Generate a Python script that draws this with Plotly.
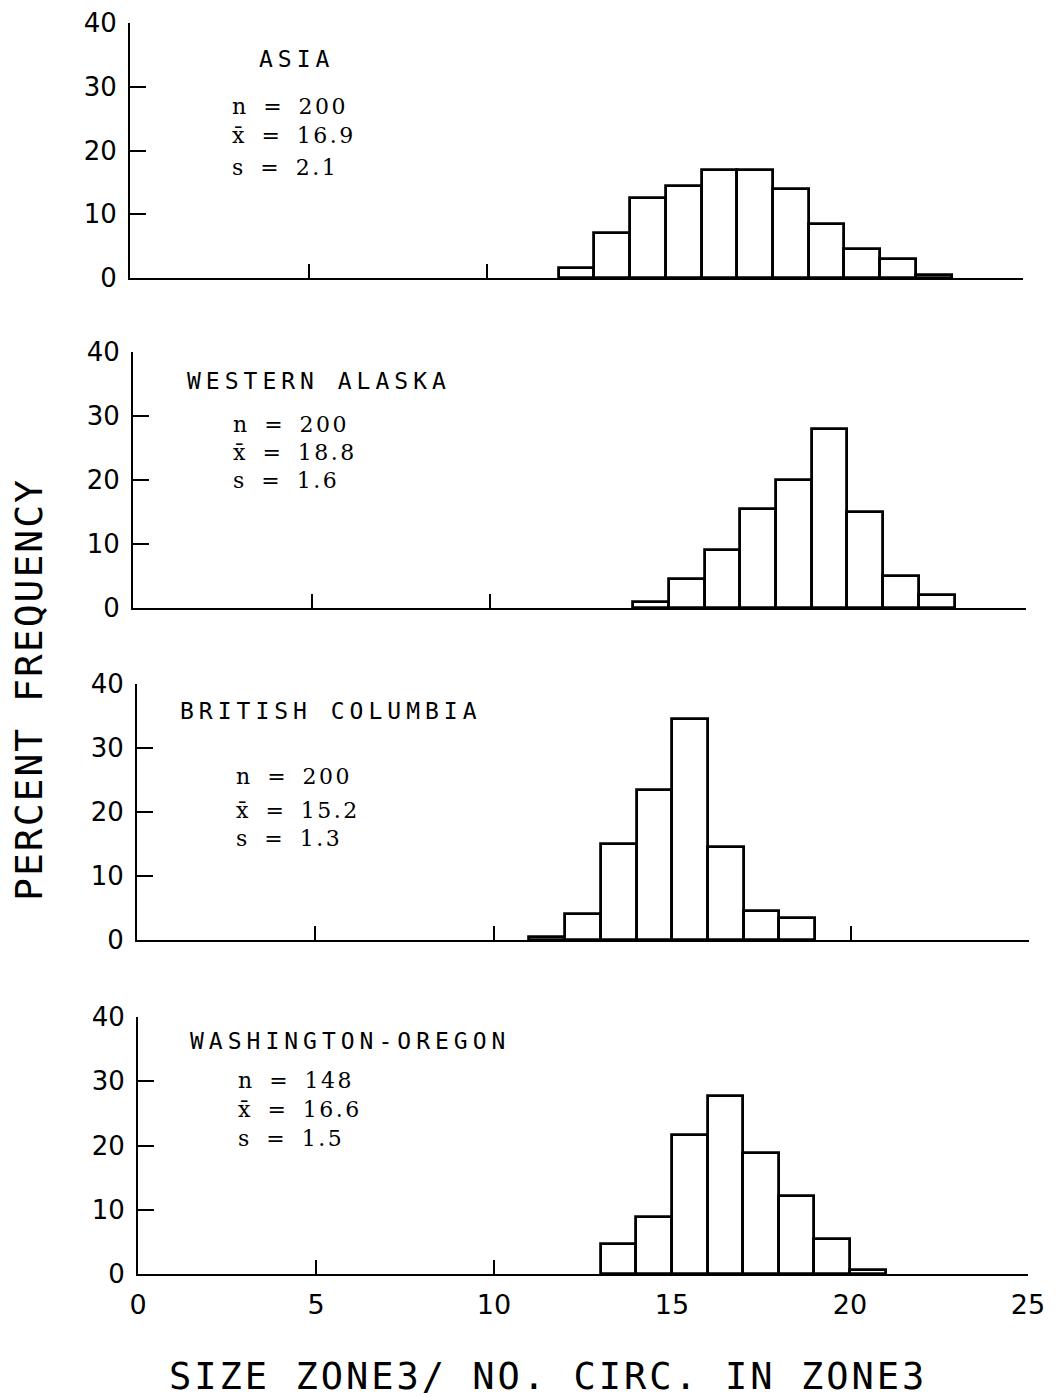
import plotly.graph_objects as go

W, H = 1059, 1398

# ---- data: percent frequency per unit-wide class (left edge of each class) ----
asia_left = [12, 13, 14, 15, 16, 17, 18, 19, 20, 21, 22]
asia_pct = [1.5, 7.0, 12.5, 14.5, 17.0, 17.0, 14.0, 8.5, 4.5, 3.0, 0.5]

alaska_left = [14, 15, 16, 17, 18, 19, 20, 21, 22]
alaska_pct = [1.0, 4.5, 9.0, 15.5, 20.0, 28.0, 15.0, 5.0, 2.0]

bc_left = [11, 12, 13, 14, 15, 16, 17, 18]
bc_pct = [0.5, 4.0, 15.0, 23.5, 34.5, 14.5, 4.5, 3.5]

wo_left = [13, 14, 15, 16, 17, 18, 19, 20]
wo_pct = [4.7, 8.8, 21.6, 27.7, 18.9, 12.2, 5.4, 0.7]

regions = ["ASIA", "WESTERN ALASKA", "BRITISH COLUMBIA", "WASHINGTON-OREGON"]
sample_n = [200, 200, 200, 148]
sample_mean = [16.9, 18.8, 15.2, 16.6]
sample_sd = [2.1, 1.6, 1.3, 1.5]

x_ticks = [0, 5, 10, 15, 20, 25]
y_ticks = [0, 10, 20, 30, 40]

series = [(asia_left, asia_pct), (alaska_left, alaska_pct),
          (bc_left, bc_pct), (wo_left, wo_pct)]

# ---- page geometry (pixels): left, right, top, bottom of each plot frame ----
frames = [(130, 1023, 23, 278), (133, 1026, 352, 608),
          (137, 1029, 684, 940), (138, 1028, 1017, 1274)]
title_pos = [(257, 59), (185, 381), (178, 711), (188, 1041)]
stats_pos = [(231, [106, 135.5, 167.5]), (232, [425, 452.5, 480.5]),
             (235, [776, 810, 839]), (237, [1080.5, 1109.5, 1138])]


def px(x):
    return x / W


def py(y):
    return 1 - y / H


PLOT_FONT = "DejaVu Sans Mono, DejaVu Sans, monospace"
TICK_FONT = "DejaVu Sans, Liberation Sans, sans-serif"
STAT_FONT = "DejaVu Serif, Liberation Serif, serif"

fig = go.Figure()
layout = dict(
    width=W, height=H,
    margin=dict(l=0, r=0, t=0, b=0, pad=0, autoexpand=False),
    paper_bgcolor="white", plot_bgcolor="white",
    showlegend=False,
    bargap=0,
)

annotations = []
for i, ((left, pct), (l, r, t, b)) in enumerate(zip(series, frames)):
    k = "" if i == 0 else str(i + 1)
    centers = [v + 0.5 for v in left]
    fig.add_trace(go.Bar(
        x=centers, y=pct, width=[1] * len(centers),
        marker=dict(color="white", line=dict(color="black", width=2.8)),
        xaxis="x" + k, yaxis="y" + k, hoverinfo="skip",
    ))
    last = i == 3
    layout["xaxis" + k] = dict(
        domain=[px(l), px(r)], anchor="y" + k, range=[0, 25],
        tickvals=x_ticks, ticks="inside", ticklen=14, tickwidth=2,
        tickcolor="black", showline=True, linecolor="black", linewidth=2,
        showgrid=False, zeroline=False, showticklabels=last,
        tickfont=dict(family=TICK_FONT, size=27, color="black"),
        ticklabelstandoff=6, automargin=False,
    )
    layout["yaxis" + k] = dict(
        domain=[py(b), py(t)], anchor="x" + k, range=[0, 40],
        tickvals=y_ticks, ticks="inside", ticklen=16, tickwidth=2,
        tickcolor="black", showline=True, linecolor="black", linewidth=2,
        showgrid=False, zeroline=False,
        tickfont=dict(family=TICK_FONT, size=26, color="black"),
        ticklabelstandoff=6, automargin=False,
    )

    tx, ty = title_pos[i]
    annotations.append(dict(
        x=px(tx), y=py(ty), xref="paper", yref="paper",
        xanchor="left", yanchor="middle", showarrow=False,
        text="<span style='letter-spacing:5px'>%s</span>" % regions[i],
        font=dict(family=PLOT_FONT, size=23, color="black"),
    ))
    sx, rows = stats_pos[i]
    lines = ["n = %d" % sample_n[i],
             "x\u0304 = %.1f" % sample_mean[i],
             "s = %.1f" % sample_sd[i]]
    for line, ry in zip(lines, rows):
        annotations.append(dict(
            x=px(sx), y=py(ry), xref="paper", yref="paper",
            xanchor="left", yanchor="middle", showarrow=False,
            borderpad=0,
            text="<span style='letter-spacing:2.5px;word-spacing:5px'>%s</span>" % line,
            font=dict(family=STAT_FONT, size=22, color="black"),
        ))

# axis titles shared by all four panels
annotations.append(dict(
    x=px(29), y=py(690), xref="paper", yref="paper",
    xanchor="center", yanchor="middle", showarrow=False, textangle=-90,
    text="<span style='letter-spacing:2px'>PERCENT FREQUENCY</span>",
    font=dict(family=PLOT_FONT, size=38, color="black"),
))
annotations.append(dict(
    x=px(548), y=py(1376), xref="paper", yref="paper",
    xanchor="center", yanchor="middle", showarrow=False,
    text="<span style='letter-spacing:3px'>SIZE ZONE3/ NO. CIRC. IN ZONE3</span>",
    font=dict(family=PLOT_FONT, size=37, color="black"),
))

layout["annotations"] = annotations
fig.update_layout(**layout)
fig.write_html("out.html")
